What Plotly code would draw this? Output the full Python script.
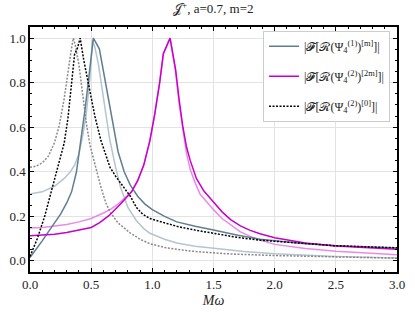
import plotly.graph_objects as go

# ---- data ----
x_s1 = [0.0, 0.05, 0.1, 0.15, 0.2, 0.25, 0.3, 0.34, 0.38, 0.42, 0.45, 0.48, 0.518, 0.567, 0.60, 0.64, 0.68, 0.72, 0.77, 0.82, 0.88, 0.94, 1.0, 1.1, 1.2, 1.35, 1.5, 1.7, 1.88, 2.0, 2.25, 2.5, 2.75, 3.0]
y_s1 = [0.015, 0.05, 0.09, 0.13, 0.17, 0.21, 0.26, 0.31, 0.40, 0.55, 0.68, 0.82, 1.0, 0.952, 0.85, 0.72, 0.60, 0.49, 0.40, 0.34, 0.29, 0.255, 0.23, 0.20, 0.175, 0.155, 0.139, 0.115, 0.097, 0.09, 0.077, 0.068, 0.063, 0.058]

x_s1b = [0.0, 0.1, 0.2, 0.28, 0.33, 0.365, 0.40, 0.43, 0.46, 0.49, 0.51, 0.53, 0.56, 0.60, 0.65, 0.70, 0.74, 0.80, 0.87, 0.93, 0.98, 1.1, 1.2, 1.35, 1.5, 1.75, 2.0, 2.5, 3.0]
y_s1b = [0.30, 0.31, 0.335, 0.37, 0.40, 0.43, 0.48, 0.56, 0.66, 0.82, 0.99, 0.96, 0.88, 0.74, 0.55, 0.42, 0.33, 0.24, 0.18, 0.145, 0.124, 0.097, 0.08, 0.066, 0.056, 0.042, 0.032, 0.02, 0.013]

x_s2 = [0.0, 0.1, 0.2, 0.3, 0.4, 0.5, 0.57, 0.65, 0.74, 0.83, 0.88, 0.93, 0.98, 1.02, 1.06, 1.09, 1.145, 1.17, 1.19, 1.22, 1.25, 1.28, 1.31, 1.36, 1.42, 1.5, 1.57, 1.64, 1.72, 1.8, 1.88, 2.0, 2.25, 2.5, 2.75, 3.0]
y_s2 = [0.113, 0.115, 0.12, 0.127, 0.137, 0.15, 0.172, 0.205, 0.255, 0.31, 0.36, 0.43, 0.54, 0.66, 0.80, 0.93, 1.0, 0.93, 0.86, 0.72, 0.60, 0.51, 0.45, 0.37, 0.315, 0.264, 0.22, 0.185, 0.157, 0.137, 0.122, 0.104, 0.08, 0.067, 0.058, 0.052]

x_s2b = [0.0, 0.1, 0.2, 0.3, 0.4, 0.5, 0.6, 0.66, 0.72, 0.83, 0.88, 0.93, 0.98, 1.02, 1.06, 1.09, 1.145, 1.17, 1.19, 1.22, 1.25, 1.28, 1.31, 1.35, 1.39, 1.45, 1.5, 1.57, 1.64, 1.72, 1.8, 1.88, 2.0, 2.25, 2.5, 2.75, 3.0]
y_s2b = [0.148, 0.15, 0.156, 0.163, 0.175, 0.19, 0.215, 0.232, 0.255, 0.31, 0.36, 0.43, 0.54, 0.66, 0.80, 0.93, 1.0, 0.92, 0.85, 0.70, 0.58, 0.48, 0.41, 0.35, 0.30, 0.26, 0.23, 0.19, 0.16, 0.13, 0.11, 0.094, 0.074, 0.055, 0.043, 0.034, 0.027]

x_s3 = [0.0, 0.06, 0.12, 0.17, 0.21, 0.25, 0.28, 0.31, 0.335, 0.365, 0.385, 0.41, 0.44, 0.474, 0.50, 0.53, 0.58, 0.62, 0.654, 0.70, 0.74, 0.78, 0.82, 0.87, 0.92, 0.98, 1.1, 1.2, 1.35, 1.5, 1.7, 1.88, 2.0, 2.25, 2.5, 2.75, 3.0]
y_s3 = [0.02, 0.10, 0.20, 0.30, 0.39, 0.46, 0.53, 0.64, 0.78, 0.93, 0.95, 1.0, 0.90, 0.80, 0.72, 0.65, 0.54, 0.47, 0.42, 0.38, 0.35, 0.32, 0.29, 0.24, 0.21, 0.19, 0.17, 0.155, 0.138, 0.124, 0.105, 0.093, 0.088, 0.076, 0.068, 0.063, 0.059]

x_s3b = [0.0, 0.05, 0.1, 0.15, 0.2, 0.24, 0.28, 0.31, 0.335, 0.354, 0.37, 0.40, 0.433, 0.46, 0.49, 0.53, 0.58, 0.62, 0.654, 0.72, 0.82, 0.9, 0.98, 1.1, 1.31, 1.5, 1.64, 2.0, 2.5, 3.0]
y_s3b = [0.42, 0.425, 0.44, 0.47, 0.53, 0.61, 0.73, 0.85, 0.94, 1.0, 0.97, 0.88, 0.74, 0.62, 0.52, 0.43, 0.33, 0.26, 0.22, 0.17, 0.125, 0.097, 0.077, 0.06, 0.044, 0.036, 0.031, 0.024, 0.017, 0.012]

labels = [
    "|𝓕[ℛ(Ψ<sub>4</sub><sup>(1)</sup>)<sup>[m]</sup>]|",
    "|𝓕[ℛ(Ψ<sub>4</sub><sup>(2)</sup>)<sup>[2m]</sup>]|",
    "|𝓕[ℛ(Ψ<sub>4</sub><sup>(2)</sup>)<sup>[0]</sup>]|",
]
title = "𝒥<sup>+</sup>, a=0.7, m=2"

FONT = "Liberation Serif"
DOT = "2px,1.5px"

fig = go.Figure()
# light (secondary) curves
fig.add_trace(go.Scatter(x=x_s1b, y=y_s1b, mode="lines", showlegend=False,
                         line=dict(color="#b3c5d0", width=1.5)))
fig.add_trace(go.Scatter(x=x_s2b, y=y_s2b, mode="lines", showlegend=False,
                         line=dict(color="#e98ae9", width=1.5)))
fig.add_trace(go.Scatter(x=x_s3b, y=y_s3b, mode="lines", showlegend=False,
                         line=dict(color="#8a8a8a", width=1.5, dash=DOT)))
# main curves
fig.add_trace(go.Scatter(x=x_s1, y=y_s1, mode="lines", name=labels[0], legendgroup="a",
                         line=dict(color="#5f7e92", width=1.5)))
fig.add_trace(go.Scatter(x=x_s2, y=y_s2, mode="lines", name=labels[1], legendgroup="b",
                         line=dict(color="#c900c9", width=1.5)))
fig.add_trace(go.Scatter(x=x_s3, y=y_s3, mode="lines", name=labels[2], legendgroup="c",
                         line=dict(color="black", width=1.5, dash=DOT)))

axis_common = dict(
    showline=True, mirror="allticks", linecolor="black", linewidth=1.5,
    ticks="inside", ticklen=4, tickcolor="black", tickwidth=1,
    showgrid=True, gridcolor="#e3e3e3", gridwidth=1, automargin=False,
    zeroline=False, tickfont=dict(family=FONT, size=13, color="#222"),
)
fig.update_layout(
    width=415, height=312,
    margin=dict(l=30, r=18, t=27, b=40),
    paper_bgcolor="white", plot_bgcolor="white",
    font=dict(family=FONT, color="#222"),
    title=dict(text=title, x=0.514, xanchor="center", y=0.972, yanchor="middle",
               font=dict(family=FONT, size=13, color="#222")),
    xaxis=dict(range=[0, 3.0], dtick=0.5, tickformat=".1f",
               title=dict(text="<i>Mω</i>", font=dict(family=FONT, size=14), standoff=4),
               minor=dict(ticks="inside", ticklen=2, dtick=0.1, tickcolor="black", showgrid=False),
               **axis_common),
    yaxis=dict(range=[-0.05, 1.05], dtick=0.2, tickformat=".1f",
               minor=dict(ticks="inside", ticklen=2, dtick=0.05, tickcolor="black", showgrid=False),
               **axis_common),
    legend=dict(x=0.635, xanchor="left", y=0.985, yanchor="top",
                bgcolor="white", bordercolor="#cccccc", borderwidth=1,
                font=dict(family=FONT, size=12, color="#222"),
                tracegroupgap=11, itemwidth=30),
)

fig.write_html("out.html", config={"displayModeBar": False},
               post_script="document.body.style.margin='0';document.body.style.overflow='hidden';")
